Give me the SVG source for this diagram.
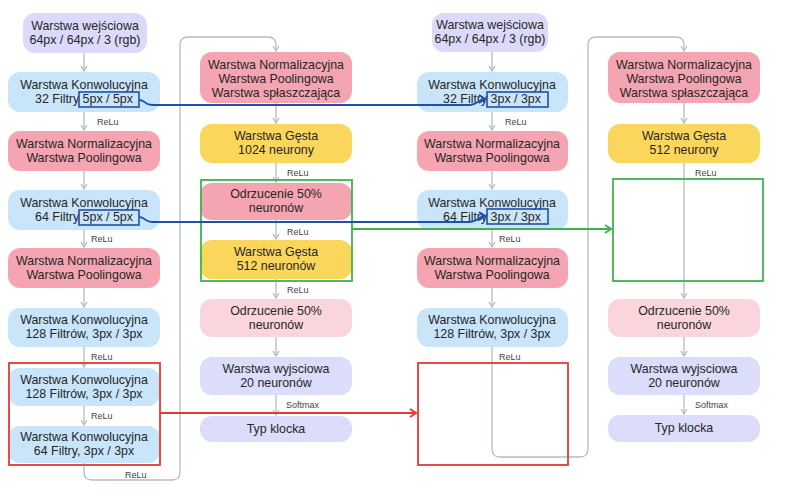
<svg xmlns="http://www.w3.org/2000/svg" width="795" height="500" viewBox="0 0 795 500">
<style>
.t{font-family:"Liberation Sans",Arial,sans-serif;font-size:12.4px;fill:#262626;text-anchor:middle}
.l{font-family:"Liberation Sans",Arial,sans-serif;font-size:9px;fill:#444}
.in{fill:#dcdafb}.cv{fill:#c8e5fa}.pk{fill:#f4a5b1}.ye{fill:#fbd65c}.lp{fill:#fad5db}.lv{fill:#dcdcfb}
.g{fill:none;stroke:#b4bcc4;stroke-width:1.3}
.bx{fill:none;stroke:#1f4fb0;stroke-width:1.6}
</style>
<defs>
<marker id="ag" markerWidth="8" markerHeight="8" refX="6" refY="4" orient="auto" markerUnits="userSpaceOnUse"><path d="M1,1 L6,4 L1,7" fill="none" stroke="#b4bcc4" stroke-width="1.3"/></marker>
<marker id="ab" markerWidth="10" markerHeight="10" refX="8" refY="5" orient="auto" markerUnits="userSpaceOnUse"><path d="M2,1 L8,5 L2,9" fill="none" stroke="#1f4fb0" stroke-width="2"/></marker>
<marker id="ar" markerWidth="10" markerHeight="10" refX="8" refY="5" orient="auto" markerUnits="userSpaceOnUse"><path d="M2,1 L8,5 L2,9" fill="none" stroke="#e53935" stroke-width="2"/></marker>
<marker id="agr" markerWidth="10" markerHeight="10" refX="8" refY="5" orient="auto" markerUnits="userSpaceOnUse"><path d="M2,1 L8,5 L2,9" fill="none" stroke="#3cb44b" stroke-width="2"/></marker>
</defs>
<rect width="795" height="500" fill="#fff"/>

<g id="grey-connectors">
<path class="g" d="M84,53 V71" marker-end="url(#ag)"/>
<path class="g" d="M84,112 V130" marker-end="url(#ag)"/>
<path class="g" d="M84,171 V189" marker-end="url(#ag)"/>
<path class="g" d="M84,230 V247" marker-end="url(#ag)"/>
<path class="g" d="M84,288 V307" marker-end="url(#ag)"/>
<path class="g" d="M84,347 V367" marker-end="url(#ag)"/>
<path class="g" d="M84,406 V425" marker-end="url(#ag)"/>
<path class="g" d="M84,463 V472 Q84,480 92,480 H172 Q180,480 180,472 V45 Q180,37 188,37 H268 Q276,37 276,45 V51" marker-end="url(#ag)"/>
<path class="g" d="M276,103 V123" marker-end="url(#ag)"/>
<path class="g" d="M276,163 V182" marker-end="url(#ag)"/>
<path class="g" d="M276,220 V239" marker-end="url(#ag)"/>
<path class="g" d="M276,279 V298" marker-end="url(#ag)"/>
<path class="g" d="M276,337 V356" marker-end="url(#ag)"/>
<path class="g" d="M276,395 V415" marker-end="url(#ag)"/>
<path class="g" d="M492,52 V71" marker-end="url(#ag)"/>
<path class="g" d="M492,112 V130" marker-end="url(#ag)"/>
<path class="g" d="M492,171 V189" marker-end="url(#ag)"/>
<path class="g" d="M492,230 V247" marker-end="url(#ag)"/>
<path class="g" d="M492,288 V307" marker-end="url(#ag)"/>
<path class="g" d="M492,347 V449 Q492,457 500,457 H580 Q588,457 588,449 V45 Q588,37 596,37 H676 Q684,37 684,45 V51" marker-end="url(#ag)"/>
<path class="g" d="M684,103 V123" marker-end="url(#ag)"/>
<path class="g" d="M684,163 V298" marker-end="url(#ag)"/>
<path class="g" d="M684,337 V356" marker-end="url(#ag)"/>
<path class="g" d="M684,395 V414" marker-end="url(#ag)"/>
</g>

<g id="labels">
<text class="l" x="97" y="125">ReLu</text>
<text class="l" x="91" y="242">ReLu</text>
<text class="l" x="91" y="360">ReLu</text>
<text class="l" x="91" y="419">ReLu</text>
<text class="l" x="125" y="478">ReLu</text>
<text class="l" x="287" y="176">ReLu</text>
<text class="l" x="287" y="235">ReLu</text>
<text class="l" x="287" y="293">ReLu</text>
<text class="l" x="286" y="408">Softmax</text>
<text class="l" x="505" y="125">ReLu</text>
<text class="l" x="499" y="242">ReLu</text>
<text class="l" x="499" y="360">ReLu</text>
<text class="l" x="695" y="176">ReLu</text>
<text class="l" x="695" y="408">Softmax</text>
</g>

<g id="n-in1"><rect class="in" x="23" y="13" width="124" height="40" rx="12"/><text class="t" x="85" y="30">Warstwa wejściowa</text><text class="t" x="85" y="44">64px / 64px / 3 (rgb)</text></g>
<g id="n-conv1"><rect class="cv" x="8" y="72" width="152" height="40" rx="12"/><text class="t" x="84" y="89">Warstwa Konwolucyjna</text><text class="t" x="84" y="103">32 Filtry 5px / 5px</text></g>
<g id="n-pool1"><rect class="pk" x="8" y="131" width="152" height="40" rx="12"/><text class="t" x="84" y="148">Warstwa Normalizacyjna</text><text class="t" x="84" y="162">Warstwa Poolingowa</text></g>
<g id="n-conv2"><rect class="cv" x="8" y="190" width="152" height="40" rx="12"/><text class="t" x="84" y="207">Warstwa Konwolucyjna</text><text class="t" x="84" y="221">64 Filtry 5px / 5px</text></g>
<g id="n-pool2"><rect class="pk" x="8" y="248" width="152" height="40" rx="12"/><text class="t" x="84" y="265">Warstwa Normalizacyjna</text><text class="t" x="84" y="279">Warstwa Poolingowa</text></g>
<g id="n-conv3"><rect class="cv" x="8" y="308" width="152" height="39" rx="12"/><text class="t" x="84" y="324">Warstwa Konwolucyjna</text><text class="t" x="84" y="338">128 Filtrów, 3px / 3px</text></g>
<g id="n-conv4"><rect class="cv" x="8" y="368" width="152" height="38" rx="12"/><text class="t" x="84" y="384">Warstwa Konwolucyjna</text><text class="t" x="84" y="398">128 Filtrów, 3px / 3px</text></g>
<g id="n-conv5"><rect class="cv" x="8" y="426" width="152" height="37" rx="12"/><text class="t" x="84" y="441">Warstwa Konwolucyjna</text><text class="t" x="84" y="455">64 Filtry, 3px / 3px</text></g>

<g id="m-pool"><rect class="pk" x="200" y="52" width="152" height="51" rx="12"/><text class="t" x="276" y="69">Warstwa Normalizacyjna</text><text class="t" x="276" y="83">Warstwa Poolingowa</text><text class="t" x="276" y="97">Warstwa spłaszczająca</text></g>
<g id="m-dense1"><rect class="ye" x="200" y="124" width="152" height="39" rx="12"/><text class="t" x="276" y="140">Warstwa Gęsta</text><text class="t" x="276" y="154">1024 neurony</text></g>
<g id="m-drop1"><rect class="pk" x="200" y="183" width="152" height="37" rx="12"/><text class="t" x="276" y="198">Odrzucenie 50%</text><text class="t" x="276" y="212">neuronów</text></g>
<g id="m-dense2"><rect class="ye" x="200" y="240" width="152" height="39" rx="12"/><text class="t" x="276" y="256">Warstwa Gęsta</text><text class="t" x="276" y="270">512 neuronów</text></g>
<g id="m-drop2"><rect class="lp" x="200" y="299" width="152" height="38" rx="12"/><text class="t" x="276" y="315">Odrzucenie 50%</text><text class="t" x="276" y="329">neuronów</text></g>
<g id="m-out"><rect class="lv" x="200" y="357" width="152" height="38" rx="12"/><text class="t" x="276" y="373">Warstwa wyjsciowa</text><text class="t" x="276" y="387">20 neuronów</text></g>
<g id="m-type"><rect class="lv" x="200" y="416" width="152" height="26" rx="12"/><text class="t" x="276" y="433">Typ klocka</text></g>

<g id="r-in"><rect class="in" x="432" y="13" width="116" height="39" rx="12"/><text class="t" x="490" y="29">Warstwa wejściowa</text><text class="t" x="490" y="43">64px / 64px / 3 (rgb)</text></g>
<g id="r-conv1"><rect class="cv" x="417" y="72" width="151" height="40" rx="12"/><text class="t" x="492" y="89">Warstwa Konwolucyjna</text><text class="t" x="492" y="103">32 Filtry 3px / 3px</text></g>
<g id="r-pool1"><rect class="pk" x="417" y="131" width="151" height="40" rx="12"/><text class="t" x="492" y="148">Warstwa Normalizacyjna</text><text class="t" x="492" y="162">Warstwa Poolingowa</text></g>
<g id="r-conv2"><rect class="cv" x="417" y="190" width="151" height="40" rx="12"/><text class="t" x="492" y="207">Warstwa Konwolucyjna</text><text class="t" x="492" y="221">64 Filtry 3px / 3px</text></g>
<g id="r-pool2"><rect class="pk" x="417" y="248" width="151" height="40" rx="12"/><text class="t" x="492" y="265">Warstwa Normalizacyjna</text><text class="t" x="492" y="279">Warstwa Poolingowa</text></g>
<g id="r-conv3"><rect class="cv" x="417" y="308" width="151" height="39" rx="12"/><text class="t" x="492" y="324">Warstwa Konwolucyjna</text><text class="t" x="492" y="338">128 Filtrów, 3px / 3px</text></g>

<g id="f-pool"><rect class="pk" x="608" y="52" width="152" height="51" rx="12"/><text class="t" x="684" y="69">Warstwa Normalizacyjna</text><text class="t" x="684" y="83">Warstwa Poolingowa</text><text class="t" x="684" y="97">Warstwa spłaszczająca</text></g>
<g id="f-dense"><rect class="ye" x="608" y="124" width="152" height="39" rx="12"/><text class="t" x="684" y="140">Warstwa Gęsta</text><text class="t" x="684" y="154">512 neurony</text></g>
<g id="f-drop"><rect class="lp" x="608" y="299" width="152" height="38" rx="12"/><text class="t" x="684" y="315">Odrzucenie 50%</text><text class="t" x="684" y="329">neuronów</text></g>
<g id="f-out"><rect class="lv" x="608" y="357" width="152" height="38" rx="12"/><text class="t" x="684" y="373">Warstwa wyjsciowa</text><text class="t" x="684" y="387">20 neuronów</text></g>
<g id="f-type"><rect class="lv" x="608" y="415" width="152" height="27" rx="12"/><text class="t" x="684" y="432">Typ klocka</text></g>

<g id="highlights">
<rect class="bx" x="79" y="92" width="60" height="15"/>
<rect class="bx" x="79" y="210" width="60" height="15"/>
<rect class="bx" x="487" y="92" width="61" height="15"/>
<rect class="bx" x="487" y="209" width="61" height="15"/>
<rect x="9" y="363" width="151" height="102" fill="none" stroke="#e53935" stroke-width="1.8"/>
<rect x="418" y="363" width="150" height="102" fill="none" stroke="#e53935" stroke-width="1.8"/>
<rect x="201" y="180" width="151" height="101" fill="none" stroke="#3cb44b" stroke-width="1.8"/>
<rect x="613" y="179" width="150" height="102" fill="none" stroke="#3cb44b" stroke-width="1.8"/>
</g>

<g id="connectors">
<path d="M139,100 C146,100 144,105 152,105 H470 C478,105 478,99 485,99" fill="none" stroke="#1f4fb0" stroke-width="1.8" marker-end="url(#ab)"/>
<path d="M139,217 C146,217 144,222 152,222 H470 C478,222 478,216 485,216" fill="none" stroke="#1f4fb0" stroke-width="1.8" marker-end="url(#ab)"/>
<path d="M352,229 H611" fill="none" stroke="#3cb44b" stroke-width="1.8" marker-end="url(#agr)"/>
<path d="M160,413 H416" fill="none" stroke="#e53935" stroke-width="1.8" marker-end="url(#ar)"/>
</g>
</svg>
